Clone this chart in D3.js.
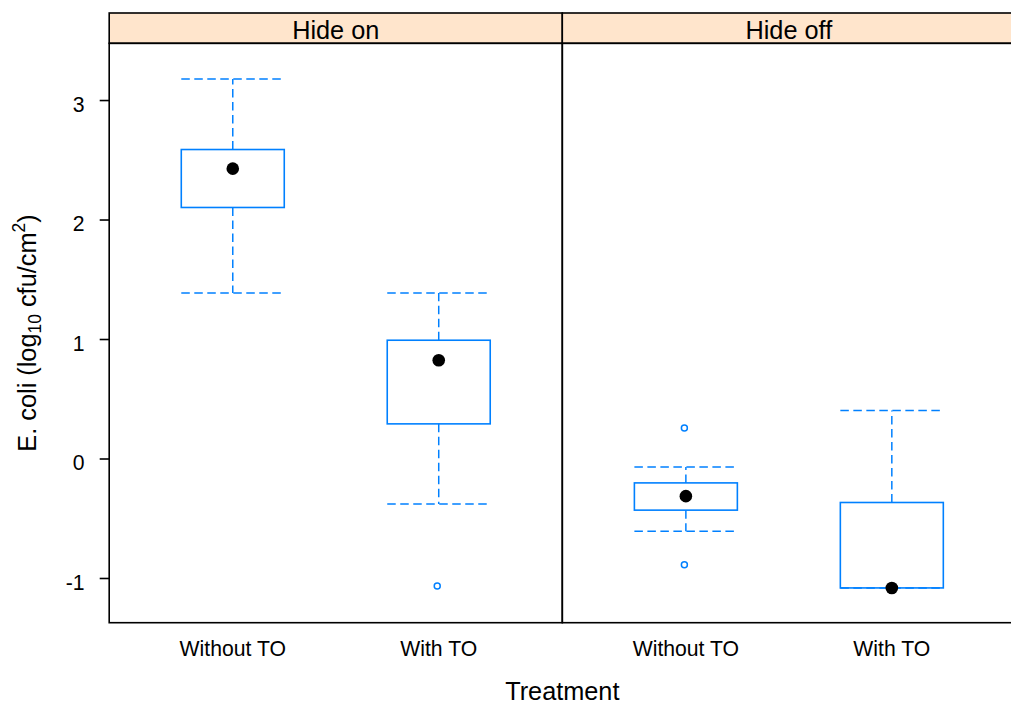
<!DOCTYPE html>
<html>
<head>
<meta charset="utf-8">
<script src="https://cdn.jsdelivr.net/npm/d3@7"></script>
<style>
  html, body { margin: 0; padding: 0; background: #fff; }
  svg { display: block; font-family: "Liberation Sans", Arial, Helvetica, sans-serif; }
</style>
</head>
<body>
<svg id="chart" width="1011" height="704"></svg>
<script>
// ---- data ----
const panels = ["Hide on", "Hide off"];
const categories = ["Without TO", "With TO"];
const yTicks = [-1, 0, 1, 2, 3];
const yTickLabels = ["-1", "0", "1", "2", "3"];
// five-number summaries [lower whisker, Q1, median, Q3, upper whisker]
const hideOnWithout = [1.39, 2.105, 2.43, 2.59, 3.18];
const hideOnWith = [-0.376, 0.294, 0.827, 0.994, 1.39];
const hideOffWithout = [-0.604, -0.428, -0.311, -0.200, -0.066];
const hideOffWith = [-1.079, -1.079, -1.079, -0.364, 0.406];
// outliers
const hideOnWithoutOut = [];
const hideOnWithOut = [-1.062];
const hideOffWithoutOut = [0.26, -0.886];
const hideOffWithOut = [];

const panelData = [
  { panel: panels[0], boxes: [
      { cat: categories[0], s: hideOnWithout, out: hideOnWithoutOut },
      { cat: categories[1], s: hideOnWith, out: hideOnWithOut } ] },
  { panel: panels[1], boxes: [
      { cat: categories[0], s: hideOffWithout, out: hideOffWithoutOut },
      { cat: categories[1], s: hideOffWith, out: hideOffWithOut } ] }
];

// ---- layout ----
const svg = d3.select("#chart");
const left = 109.2, panelW = 453.1;
const stripTop = 13, stripBot = 43.3, panelBot = 622.7;
const blue = "#0080ff";
const boxWidth = 0.5;

const y = d3.scaleLinear().domain([-1.37, 3.479]).range([panelBot, stripBot]);

panelData.forEach((pd, i) => {
  const x0 = left + i * panelW;
  const x = d3.scaleLinear().domain([0.4, 2.6]).range([x0, x0 + panelW]);
  const g = svg.append("g");

  // strip
  g.append("rect").attr("x", x0).attr("y", stripTop).attr("width", panelW)
    .attr("height", stripBot - stripTop).attr("fill", "#ffe5cc")
    .attr("stroke", "#000").attr("stroke-width", 1.6);
  g.append("text").attr("x", x0 + panelW / 2).attr("y", 39.3)
    .attr("text-anchor", "middle").attr("font-size", 25.3).attr("fill", "#000")
    .text(pd.panel);

  // panel border
  g.append("rect").attr("x", x0).attr("y", stripBot).attr("width", panelW)
    .attr("height", panelBot - stripBot).attr("fill", "none")
    .attr("stroke", "#000").attr("stroke-width", 1.6);

  pd.boxes.forEach((b, j) => {
    const cx = x(j + 1);
    const hw = (x(boxWidth) - x(0)) / 2;
    const [lo, q1, med, q3, hi] = b.s;
    const dash = "8.5,4.5";
    // whiskers
    g.append("line").attr("x1", cx).attr("x2", cx).attr("y1", y(q3)).attr("y2", y(hi))
      .attr("stroke", blue).attr("stroke-width", 1.5).attr("stroke-dasharray", dash);
    g.append("line").attr("x1", cx).attr("x2", cx).attr("y1", y(q1)).attr("y2", y(lo))
      .attr("stroke", blue).attr("stroke-width", 1.5).attr("stroke-dasharray", dash);
    // caps
    [lo, hi].forEach(v => {
      g.append("line").attr("x1", cx - hw).attr("x2", cx + hw).attr("y1", y(v)).attr("y2", y(v))
        .attr("stroke", blue).attr("stroke-width", 1.5).attr("stroke-dasharray", dash);
    });
    // box
    g.append("rect").attr("x", cx - hw).attr("y", y(q3)).attr("width", 2 * hw)
      .attr("height", y(q1) - y(q3)).attr("fill", "none")
      .attr("stroke", blue).attr("stroke-width", 1.6);
    // median dot
    g.append("circle").attr("cx", cx).attr("cy", y(med)).attr("r", 6.3).attr("fill", "#000");
    // outliers
    b.out.forEach(v => {
      g.append("circle").attr("cx", cx - 1.5).attr("cy", y(v)).attr("r", 3)
        .attr("fill", "none").attr("stroke", blue).attr("stroke-width", 1.5);
    });
    // category label
    svg.append("text").attr("x", cx).attr("y", 656).attr("text-anchor", "middle")
      .attr("font-size", 21.2).attr("fill", "#000").text(b.cat);
  });
});

// y axis (left of first panel)
const ya = svg.append("g");
yTicks.forEach((t, k) => {
  ya.append("line").attr("x1", left - 9.5).attr("x2", left).attr("y1", y(t)).attr("y2", y(t))
    .attr("stroke", "#000").attr("stroke-width", 1.6);
  ya.append("text").attr("x", 84.5).attr("y", y(t) + 11.3).attr("text-anchor", "end")
    .attr("font-size", 21.2).attr("fill", "#000").text(yTickLabels[k]);
});

// axis titles
svg.append("text").attr("x", left + panelW).attr("y", 700).attr("text-anchor", "middle")
  .attr("font-size", 25.3).attr("fill", "#000").text("Treatment");

const yl = svg.append("text")
  .attr("transform", `translate(36,${(stripBot + panelBot) / 2}) rotate(-90)`)
  .attr("text-anchor", "middle").attr("font-size", 25.3).attr("fill", "#000");
yl.append("tspan").text("E. coli (log");
yl.append("tspan").attr("font-size", 17.5).attr("dy", 5).text("10");
yl.append("tspan").attr("dy", -5).text(" cfu/cm");
yl.append("tspan").attr("font-size", 17.5).attr("dy", -11).text("2");
yl.append("tspan").attr("dy", 11).text(")");
</script>
</body>
</html>
